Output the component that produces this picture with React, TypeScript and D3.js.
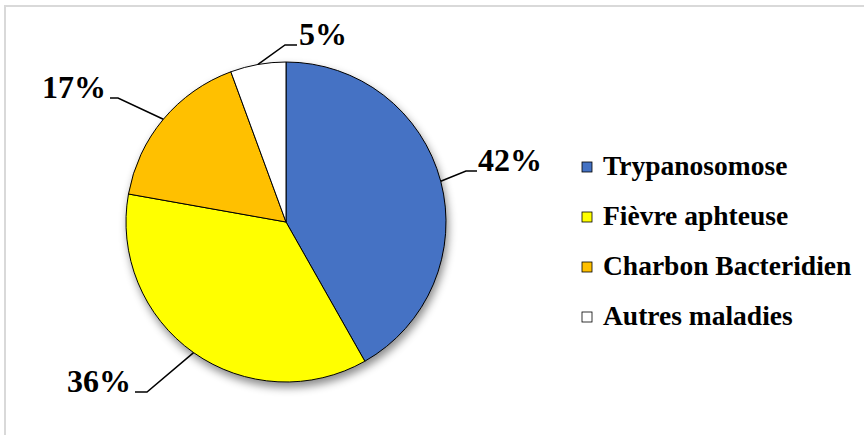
import React from "react";
import * as d3 from "d3";

const categories = ["Trypanosomose", "Fièvre aphteuse", "Charbon Bacteridien", "Autres maladies"];
const values = [41.8, 36.0, 16.6, 5.6];
const labels = ["42%", "36%", "17%", "5%"];
const colors = ["#4472C4", "#FFFF00", "#FFC000", "#FFFFFF"];

const W = 864;
const H = 435;
const cx = 286;
const cy = 222;
const R = 160;
const FONT = "'Liberation Serif', 'Times New Roman', Times, serif";

const labelPos = [
  { elbow: [466, 171], end: [477, 171], text: [478, 171], anchor: "start" },
  { elbow: [147, 392], end: [135, 392], text: [131, 392], anchor: "end" },
  { elbow: [118, 98], end: [110, 98], text: [106, 98], anchor: "end" },
  { elbow: [285, 45], end: [297, 45], text: [299, 45], anchor: "start" },
];

export default function App() {
  const pie = d3.pie<number>().sort(null).value((d) => d);
  const arcs = pie(values);
  const arc = d3.arc<d3.PieArcDatum<number>>().innerRadius(0).outerRadius(R);
  const outer = d3.arc<d3.PieArcDatum<number>>().innerRadius(R).outerRadius(R);

  return (
    <svg
      width={W}
      height={H}
      style={{ position: "absolute", left: 0, top: 0, background: "#fff" }}
    >
      <defs>
        <filter id="shadow" x="-20%" y="-20%" width="140%" height="140%">
          <feDropShadow dx="2" dy="5" stdDeviation="4" floodColor="#000" floodOpacity="0.45" />
        </filter>
      </defs>
      <rect x={5} y={6} width={900} height={480} fill="#fff" stroke="#d9d9d9" strokeWidth={2} />
      <g transform={`translate(${cx},${cy})`} filter="url(#shadow)">
        {arcs.map((a, i) => (
          <path key={i} d={arc(a) || ""} fill={colors[i]} stroke="#000" strokeWidth={1} />
        ))}
      </g>
      {arcs.map((a, i) => {
        const [px, py] = outer.centroid(a);
        const lp = labelPos[i];
        return (
          <g key={i}>
            <polyline
              points={`${cx + px},${cy + py} ${lp.elbow[0]},${lp.elbow[1]} ${lp.end[0]},${lp.end[1]}`}
              fill="none"
              stroke="#000"
              strokeWidth={1.5}
            />
            <text
              x={lp.text[0]}
              y={lp.text[1]}
              textAnchor={lp.anchor as any}
              fontFamily={FONT}
              fontWeight="bold"
              fontSize={32}
              fill="#000"
            >
              {labels[i]}
            </text>
          </g>
        );
      })}
      {categories.map((c, i) => {
        const y = 175 + i * 50;
        return (
          <g key={c}>
            <rect x={582} y={y - 13} width={10} height={10} fill={colors[i]} stroke="#000" strokeWidth={0.8} />
            <text x={603} y={y} fontFamily={FONT} fontWeight="bold" fontSize={27.5} fill="#000">
              {c}
            </text>
          </g>
        );
      })}
    </svg>
  );
}
